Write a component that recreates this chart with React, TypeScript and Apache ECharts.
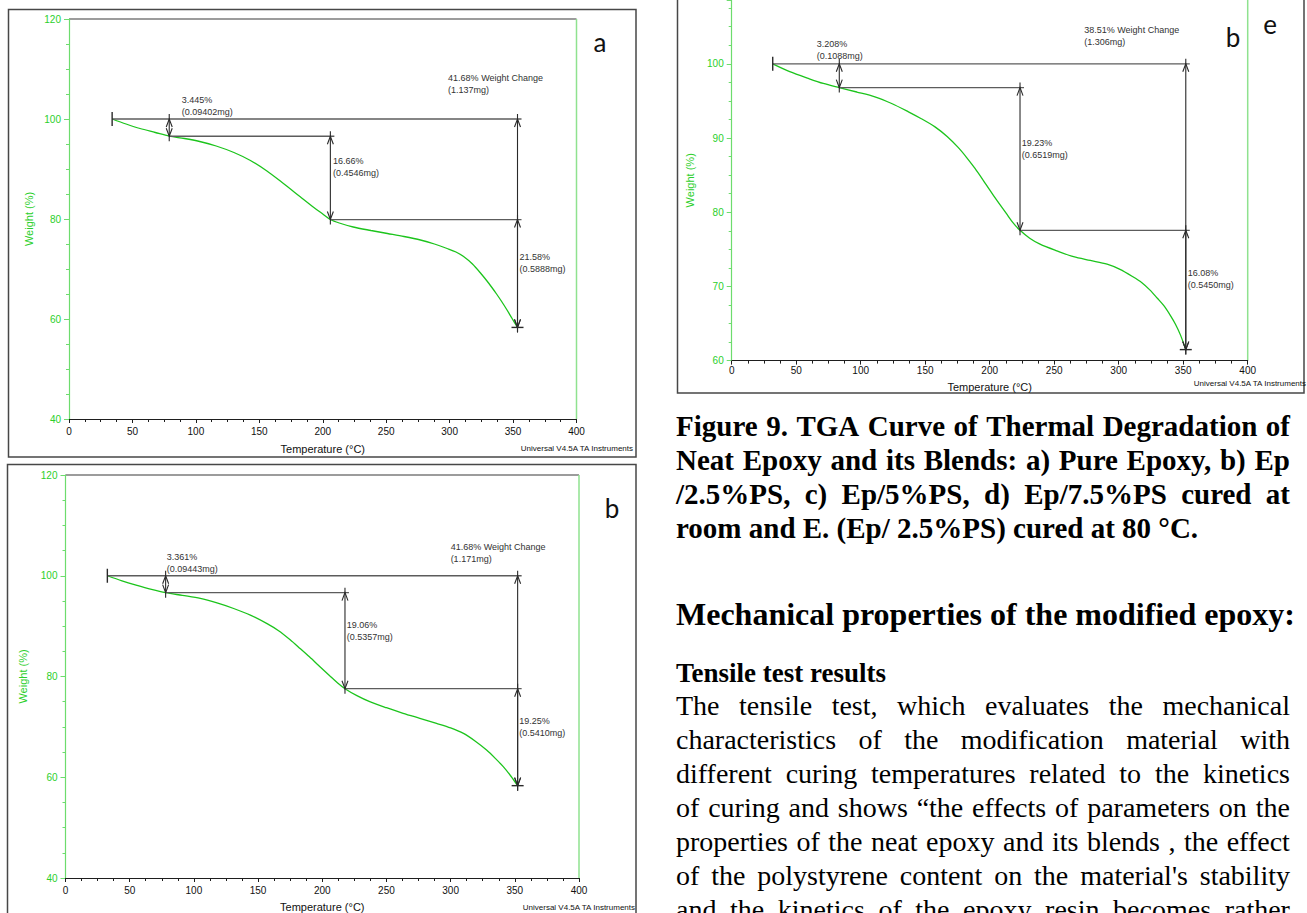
import { useEffect, useRef } from 'react';
import * as echarts from 'echarts';

// ---------- a) pure epoxy ----------
const tempA = [34, 45, 56, 68, 79, 91, 103, 116, 130, 143, 156, 169, 182, 193, 200, 206, 213, 224, 238, 251, 264, 277, 288, 298, 305, 311, 318, 324, 331, 337, 341, 345, 349, 353.5];
const weightA = [100, 99.0, 98.1, 97.3, 96.56, 96.1, 95.5, 94.6, 93.3, 91.7, 89.6, 87.1, 84.5, 82.3, 81.0, 79.9, 79.2, 78.4, 77.7, 77.1, 76.5, 75.8, 75.0, 74.1, 73.4, 72.5, 71.0, 69.3, 67.1, 65.0, 63.5, 61.9, 60.2, 58.32];
const stepTempA = [34, 79, 206, 353.5]; // start of run, then the three step boundaries (°C)
const lossA = [3.445, 16.66, 21.58]; // weight lost in each step (%)
const massA = ['0.09402', '0.4546', '0.5888']; // mass lost in each step (mg)
const totalA = 41.68;
const totalMassA = '1.137';
const noteTempA = [88.9, 208, 355, 298.8];
const noteWeightA = [102.55, 90.45, 71.15, 106.95];

// ---------- b) Ep / 2.5% PS ----------
const tempB = [32.6, 44, 55, 67, 78, 91, 105, 118, 131, 144, 157, 166, 175, 183, 190, 198, 206, 212, 217.7, 227, 237, 250, 263, 276, 289, 300, 310, 319, 328, 335, 341, 347, 352.2];
const weightB = [100, 99.0, 98.15, 97.3, 96.64, 96.1, 95.5, 94.6, 93.5, 92.2, 90.5, 89.1, 87.3, 85.5, 83.9, 82.0, 80.1, 78.7, 77.58, 76.2, 75.0, 73.8, 72.7, 71.7, 70.7, 69.8, 68.7, 67.2, 65.4, 63.7, 62.1, 60.2, 58.33];
const stepTempB = [32.6, 78, 217.7, 352.2];
const lossB = [3.361, 19.06, 19.25];
const massB = ['0.09443', '0.5357', '0.5410'];
const totalB = 41.68;
const totalMassB = '1.171';
const noteTempB = [78.8, 219, 353.4, 300];
const noteWeightB = [102.45, 89.05, 70.05, 104.55];

// ---------- e) Ep / 2.5% PS cured at 80 °C ----------
const tempE = [31.8, 45, 59.4, 71, 83.4, 97, 111, 124, 137, 147, 157.6, 167, 175.7, 182, 188.6, 195, 200, 206, 213, 218, 223.5, 231, 239, 252, 265, 278, 291, 301, 311, 318, 324.3, 330, 335, 340, 344, 348, 352];
const weightE = [100, 98.95, 98.03, 97.35, 96.79, 96.2, 95.55, 94.65, 93.53, 92.6, 91.5, 90.2, 88.7, 87.4, 85.9, 84.3, 83.0, 81.5, 79.8, 78.6, 77.56, 76.5, 75.7, 74.8, 74.0, 73.5, 73.0, 72.3, 71.3, 70.5, 69.5, 68.4, 67.4, 66.1, 64.9, 63.4, 61.48];
const stepTempE = [31.8, 83.4, 223.5, 352];
const lossE = [3.208, 19.23, 16.08];
const massE = ['0.1088', '0.6519', '0.5450'];
const totalE = 38.51;
const totalMassE = '1.306';
const noteTempE = [65.9, 224.8, 353.5, 273.3];
const noteWeightE = [101.8, 88.55, 70.95, 103.7];

const tempTicks = { min: 0, max: 400, interval: 50 };

const SANS = '"Liberation Sans", Arial, sans-serif';
const SERIF = '"Liberation Serif", "Times New Roman", serif';
const CURVE = '#1cc41c';
const GREEN_TEXT = '#2bcf2b';
const GREEN_AXIS = '#6ddc6d';
const INK = '#2a2a2a';

type Panel = {
  temps: number[];
  weights: number[];
  steps: number[];
  loss: number[];
  mass: string[];
  total: number;
  totalMass: string;
  noteT: number[];
  noteW: number[];
  yMin: number;
  yMax: number;
  yStep: number;
  box: { left: number; top: number; width: number; height: number };
  xLabelMargin: number;
  xNameGap: number;
  yNameGap: number;
};

const panels: Panel[] = [
  {
    temps: tempA, weights: weightA, steps: stepTempA, loss: lossA, mass: massA,
    total: totalA, totalMass: totalMassA, noteT: noteTempA, noteW: noteWeightA,
    yMin: 40, yMax: 120, yStep: 20,
    box: { left: 69, top: 19, width: 507.5, height: 400 },
    xLabelMargin: 7, xNameGap: 24, yNameGap: 35,
  },
  {
    temps: tempB, weights: weightB, steps: stepTempB, loss: lossB, mass: massB,
    total: totalB, totalMass: totalMassB, noteT: noteTempB, noteW: noteWeightB,
    yMin: 40, yMax: 120, yStep: 20,
    box: { left: 65.5, top: 475, width: 513.5, height: 404 },
    xLabelMargin: 7, xNameGap: 23, yNameGap: 37,
  },
  {
    temps: tempE, weights: weightE, steps: stepTempE, loss: lossE, mass: massE,
    total: totalE, totalMass: totalMassE, noteT: noteTempE, noteW: noteWeightE,
    yMin: 60, yMax: 108.6, yStep: 10,
    box: { left: 731.7, top: 0, width: 516, height: 360.6 },
    xLabelMargin: 5, xNameGap: 21, yNameGap: 36,
  },
];

const lineStyle = (stroke: string, lineWidth = 1) => ({ stroke, lineWidth, fill: 'none' });

function buildOption() {
  const grid: any[] = [];
  const xAxis: any[] = [];
  const yAxis: any[] = [];
  const series: any[] = [];

  panels.forEach((p, i) => {
    grid.push({ ...p.box });

    xAxis.push({
      gridIndex: i,
      type: 'value',
      ...tempTicks,
      axisLine: { show: true, onZero: false, lineStyle: { color: '#1e1e1e', width: 1 } },
      axisTick: { show: true, length: 4, lineStyle: { color: '#1e1e1e' } },
      minorTick: { show: true, splitNumber: 4, length: 3, lineStyle: { color: '#1e1e1e' } },
      splitLine: { show: false },
      axisLabel: { color: '#111', fontSize: 10, fontFamily: SANS, margin: p.xLabelMargin },
      name: 'Temperature (°C)',
      nameLocation: 'middle',
      nameGap: p.xNameGap,
      nameTextStyle: { color: '#111', fontSize: 11, fontFamily: SANS },
    });

    yAxis.push({
      gridIndex: i,
      type: 'value',
      min: p.yMin,
      max: p.yMax,
      interval: p.yStep,
      axisLine: { show: true, onZero: false, lineStyle: { color: GREEN_AXIS, width: 1.2 } },
      axisTick: { show: true, length: 5, lineStyle: { color: GREEN_AXIS } },
      minorTick: { show: true, splitNumber: 4, length: 3, lineStyle: { color: GREEN_AXIS } },
      splitLine: { show: false },
      axisLabel: {
        color: GREEN_TEXT,
        fontSize: 10,
        fontFamily: SANS,
        margin: 8,
        formatter: (v: number) => (v % p.yStep === 0 ? String(v) : ''),
      },
      name: 'Weight (%)',
      nameLocation: 'middle',
      nameGap: p.yNameGap,
      nameTextStyle: { color: GREEN_TEXT, fontSize: 11, fontFamily: SANS },
    });

    // step boundaries as weights, taken from the stated losses
    const w1 = 100 - p.loss[0];
    const w2 = w1 - p.loss[1];
    const w3 = w2 - p.loss[2];
    const [t0, t1, t2, t3] = p.steps;

    series.push({
      type: 'line',
      xAxisIndex: i,
      yAxisIndex: i,
      data: p.temps.map((t, k) => [t, p.weights[k]]),
      showSymbol: false,
      smooth: 0.3,
      lineStyle: { color: CURVE, width: 1.3 },
      silent: true,
      z: 3,
    });

    // horizontal reference levels
    series.push({
      type: 'custom',
      xAxisIndex: i,
      yAxisIndex: i,
      silent: true,
      clip: false,
      encode: { x: [0, 1], y: 2 },
      data: [[t0, t3, 100], [t1, t2, w1], [t2, t3, w2]],
      renderItem: (_params: any, api: any) => {
        const a = api.coord([api.value(0), api.value(2)]);
        const b = api.coord([api.value(1), api.value(2)]);
        return {
          type: 'line',
          shape: { x1: a[0], y1: a[1], x2: b[0] + 4, y2: b[1] },
          style: lineStyle('#5c5c5c', 1.3),
        };
      },
      z: 4,
    });

    // double-headed step arrows
    series.push({
      type: 'custom',
      xAxisIndex: i,
      yAxisIndex: i,
      silent: true,
      clip: false,
      encode: { x: 0, y: [1, 2] },
      data: [[t1, 100, w1], [t2, w1, w2], [t3, 100, w3], [t3, w2, w3]],
      renderItem: (_params: any, api: any) => {
        const top = api.coord([api.value(0), api.value(1)]);
        const bot = api.coord([api.value(0), api.value(2)]);
        const x = top[0];
        const s = lineStyle(INK, 1.1);
        return {
          type: 'group',
          children: [
            { type: 'line', shape: { x1: x, y1: top[1] - 5, x2: x, y2: bot[1] + 5 }, style: s },
            { type: 'polyline', shape: { points: [[x - 3, top[1] + 8], [x, top[1]], [x + 3, top[1] + 8]] }, style: s },
            { type: 'polyline', shape: { points: [[x - 3, bot[1] - 8], [x, bot[1]], [x + 3, bot[1] - 8]] }, style: s },
          ],
        };
      },
      z: 5,
    });

    // end caps: start of run and final residue
    series.push({
      type: 'custom',
      xAxisIndex: i,
      yAxisIndex: i,
      silent: true,
      clip: false,
      encode: { x: 0, y: 1 },
      data: [[t0, 100], [t3, w3]],
      renderItem: (params: any, api: any) => {
        const c = api.coord([api.value(0), api.value(1)]);
        const shape = params.dataIndex === 0
          ? { x1: c[0], y1: c[1] - 7, x2: c[0], y2: c[1] + 7 }
          : { x1: c[0] - 6, y1: c[1], x2: c[0] + 6, y2: c[1] };
        return { type: 'line', shape, style: lineStyle(INK, 1.4) };
      },
      z: 5,
    });

    // step notes
    const notes = [
      `${p.loss[0]}%\n(${p.mass[0]}mg)`,
      `${p.loss[1]}%\n(${p.mass[1]}mg)`,
      `${p.loss[2]}%\n(${p.mass[2]}mg)`,
      `${p.total}% Weight Change\n(${p.totalMass}mg)`,
    ];
    series.push({
      type: 'custom',
      xAxisIndex: i,
      yAxisIndex: i,
      silent: true,
      clip: false,
      encode: { x: 0, y: 1 },
      data: p.noteT.map((t, k) => [t, p.noteW[k]]),
      renderItem: (params: any, api: any) => {
        const c = api.coord([api.value(0), api.value(1)]);
        return {
          type: 'text',
          x: c[0],
          y: c[1],
          style: {
            text: notes[params.dataIndex],
            fill: '#333',
            font: `9px ${SANS}`,
            align: 'left',
            verticalAlign: 'middle',
            lineHeight: 12,
          },
        };
      },
      z: 6,
    });
  });

  const frame = (x: number, y: number, w: number, h: number) => ({
    type: 'rect', silent: true, shape: { x, y, width: w, height: h },
    style: { fill: 'none', stroke: '#474747', lineWidth: 1.5 },
  });
  const seg = (x1: number, y1: number, x2: number, y2: number, stroke: string, lw: number) => ({
    type: 'line', silent: true, shape: { x1, y1, x2, y2 }, style: { stroke, lineWidth: lw },
  });
  const note = (x: number, y: number, text: string, size: number, family: string, align = 'left') => ({
    type: 'text', silent: true, x, y,
    style: { text, fill: '#111', font: `${size}px ${family}`, align, verticalAlign: 'middle' },
  });

  const LETTER = 'Lato, "Open Sans", sans-serif';
  const graphic = [
    frame(8.5, 9.5, 627.5, 447.5),
    frame(7.5, 464.5, 628.5, 480),
    frame(677.5, -20, 626.5, 413),
    seg(69, 19, 576.5, 19, '#9c9c9c', 2),
    seg(65.5, 475, 579, 475, '#9c9c9c', 2),
    seg(576.5, 19, 576.5, 419, '#8fe28f', 1.5),
    seg(579, 475, 579, 879, '#8fe28f', 1.5),
    seg(1247.7, 0, 1247.7, 360.6, '#8fe28f', 1.5),
    note(633, 448, 'Universal V4.5A TA Instruments', 8, SANS, 'right'),
    note(635, 907, 'Universal V4.5A TA Instruments', 8, SANS, 'right'),
    note(1306, 383, 'Universal V4.5A TA Instruments', 8, SANS, 'right'),
    note(600, 42, 'a', 26, LETTER, 'center'),
    note(612, 508, 'b', 26, LETTER, 'center'),
    note(1233, 37, 'b', 26, LETTER, 'center'),
    note(1270, 24, 'e', 26, LETTER, 'center'),
  ];

  return {
    animation: false,
    backgroundColor: '#ffffff',
    textStyle: { fontFamily: SANS },
    grid,
    xAxis,
    yAxis,
    series,
    graphic,
  };
}

const captionLines = [
  'Figure 9. TGA Curve of Thermal Degradation of',
  'Neat Epoxy and its Blends: a) Pure Epoxy, b) Ep',
  '/2.5%PS, c) Ep/5%PS, d) Ep/7.5%PS cured at',
];
const captionLast = 'room and E. (Ep/ 2.5%PS) cured at 80 °C.';
const bodyLines = [
  'The tensile test, which evaluates the mechanical',
  'characteristics of the modification material with',
  'different curing temperatures related to the kinetics',
  'of curing and shows \u201cthe effects of parameters on the',
  'properties of the neat epoxy and its blends , the effect',
  "of the polystyrene content on the material's stability",
  'and the kinetics of the epoxy resin becomes rather',
];

const TEXT_LEFT = 676;
const TEXT_WIDTH = 614;

function Line({ text, baseline, size, bold, justify }: { text: string; baseline: number; size: number; bold?: boolean; justify?: boolean }) {
  const base: any = {
    position: 'absolute',
    left: TEXT_LEFT,
    top: baseline - 0.8375 * size,
    fontFamily: SERIF,
    fontSize: size,
    lineHeight: `${size}px`,
    fontWeight: bold ? 700 : 400,
    color: '#000',
    whiteSpace: 'nowrap',
  };
  if (!justify) return <div style={base}>{text}</div>;
  const words = text.split(' ').filter((w) => w.length > 0);
  return (
    <div style={{ ...base, width: TEXT_WIDTH, display: 'flex', justifyContent: 'space-between' }}>
      {words.map((w, k) => (
        <span key={k}>{w}</span>
      ))}
    </div>
  );
}

export default function App() {
  const ref = useRef<HTMLDivElement>(null);

  useEffect(() => {
    if (!ref.current) return;
    const chart = echarts.init(ref.current, null, { renderer: 'svg' });
    chart.setOption(buildOption() as any);
    return () => chart.dispose();
  }, []);

  return (
    <div style={{ position: 'absolute', left: 0, top: 0, width: 1307, height: 913, overflow: 'hidden', background: '#fff' }}>
      <div ref={ref} style={{ position: 'absolute', left: 0, top: 0, width: 1307, height: 913 }} />
      {captionLines.map((t, k) => (
        <Line key={`c${k}`} text={t} baseline={436 + k * 34} size={29} bold justify />
      ))}
      <Line text={captionLast} baseline={538} size={29} bold />
      <Line text="Mechanical properties of the modified epoxy:" baseline={625} size={32} bold />
      <Line text="Tensile test results" baseline={683} size={27} bold />
      {bodyLines.map((t, k) => (
        <Line key={`b${k}`} text={t} baseline={715 + k * 34} size={28} justify />
      ))}
    </div>
  );
}
